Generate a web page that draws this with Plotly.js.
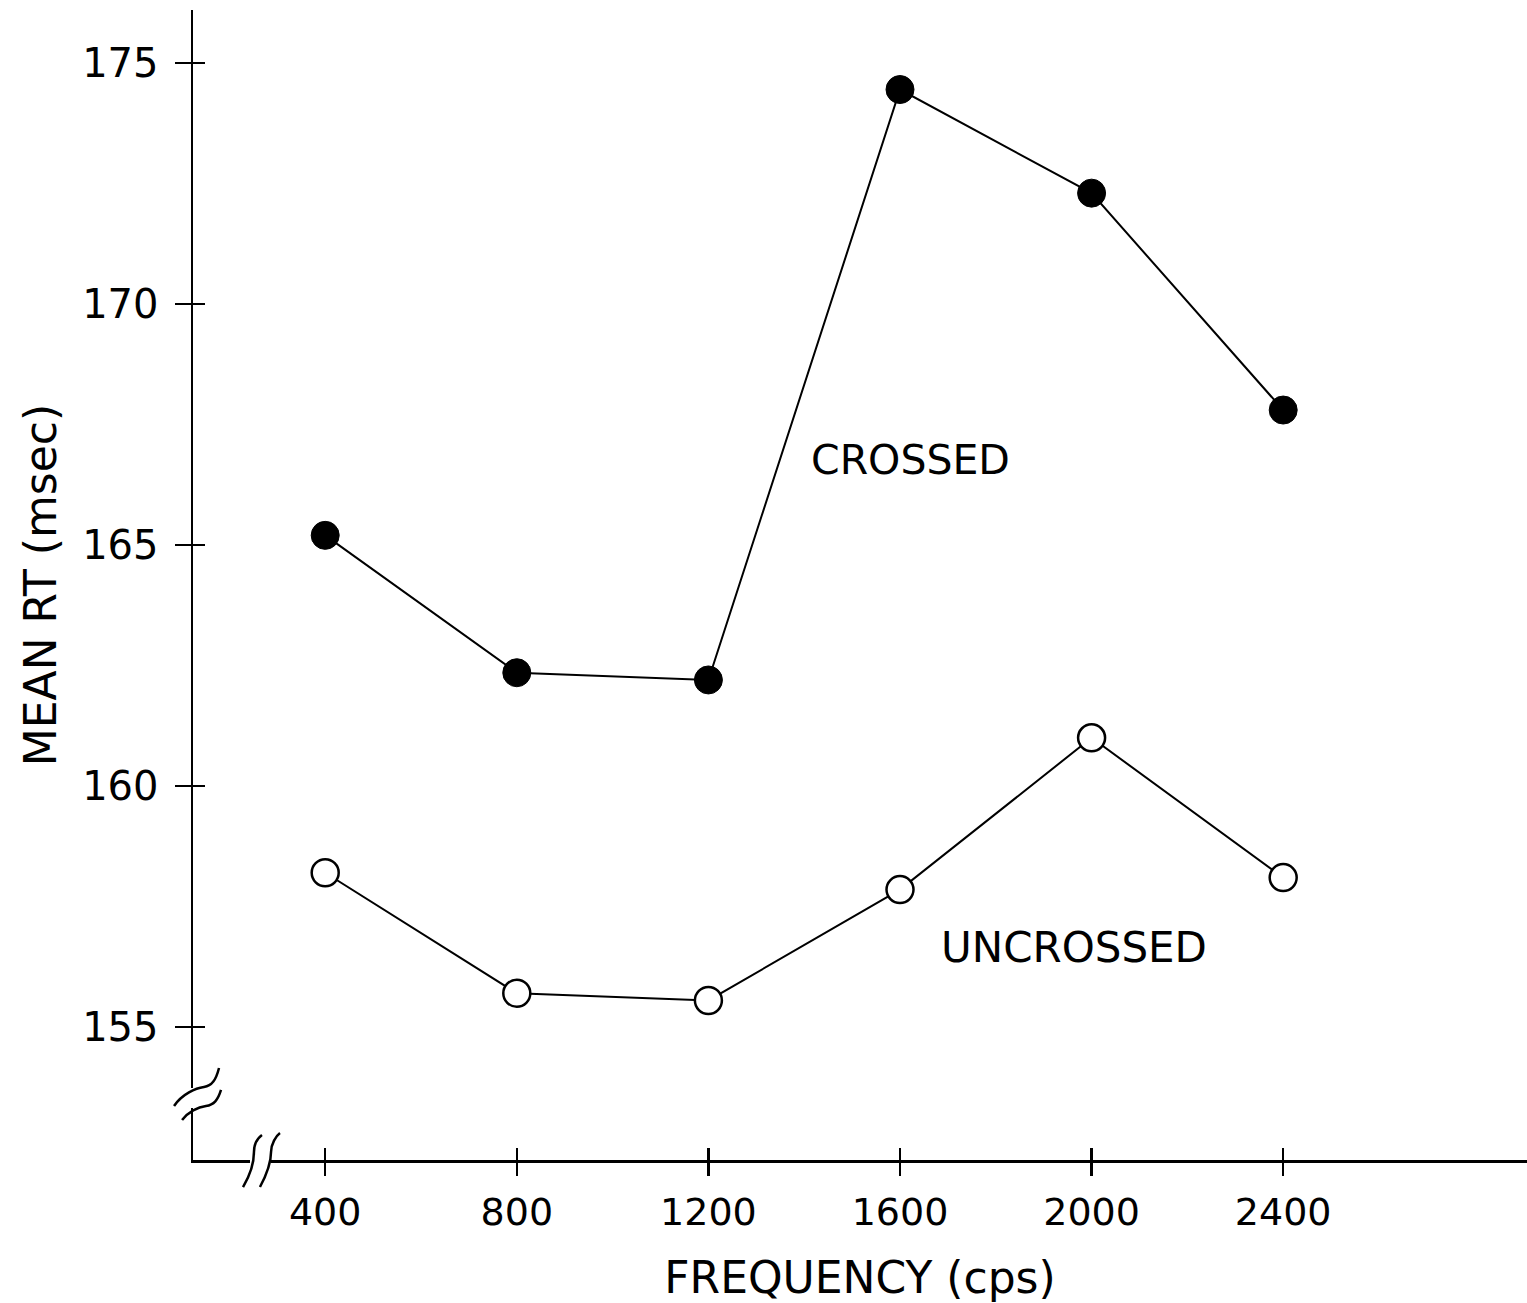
<!DOCTYPE html>
<html>
<head>
<meta charset="utf-8">
<script src="https://cdn.plot.ly/plotly-3.0.1.min.js"></script>
<style>html,body{margin:0;padding:0;background:#fff;}#chart{width:1527px;height:1303px;}</style>
</head>
<body>
<div id="chart"></div>
<script>
// Data
const frequencies = [400, 800, 1200, 1600, 2000, 2400];
const crossedRT = [165.2, 162.35, 162.2, 174.45, 172.3, 167.8];
const uncrossedRT = [158.2, 155.7, 155.55, 157.85, 161.0, 158.1];
const xTickVals = [400, 800, 1200, 1600, 2000, 2400];
const yTickVals = [155, 160, 165, 170, 175];

const W = 1527, H = 1303;
const M = {l: 193, r: 0, t: 10, b: 143};
const xRange = [124, 2909];
const yRange = [152.24, 176.1];

// pixel -> paper helper for decorative axis-break marks only
function P(px, py) {
  const x = (px - M.l) / (W - M.l - M.r);
  const y = (H - M.b - py) / (H - M.t - M.b);
  return x.toFixed(4) + ',' + y.toFixed(4);
}

const font = 'DejaVu Sans, sans-serif';

const traces = [
  {x: frequencies, y: crossedRT, mode: 'lines+markers', name: 'CROSSED',
   line: {color: '#000', width: 2},
   marker: {symbol: 'circle', size: 28, color: '#000', line: {color: '#000', width: 1}}},
  {x: frequencies, y: uncrossedRT, mode: 'lines+markers', name: 'UNCROSSED',
   line: {color: '#000', width: 2},
   marker: {symbol: 'circle', size: 27, color: '#fff', line: {color: '#000', width: 2.5}}},
  {x: [], y: [], xaxis: 'x2', yaxis: 'y2', showlegend: false, hoverinfo: 'skip'}
];

const brk = {type: 'path', xref: 'paper', yref: 'paper', layer: 'above', line: {color: '#000', width: 2.5}};
const gap = {type: 'rect', xref: 'paper', yref: 'paper', layer: 'above', line: {width: 0}, fillcolor: '#fff'};

const layout = {
  width: W, height: H,
  margin: M,
  paper_bgcolor: '#fff', plot_bgcolor: '#fff',
  showlegend: false,
  font: {family: font, color: '#000'},
  xaxis: {
    range: xRange, tickvals: xTickVals, ticktext: xTickVals.map(String),
    showgrid: false, zeroline: false, showline: true, linecolor: '#000', linewidth: 2.5,
    ticks: 'outside', ticklen: 13, tickwidth: 2.5, tickcolor: '#000',
    ticklabelstandoff: 4,
    tickfont: {family: font, size: 38, color: '#000'},
    title: {text: 'FREQUENCY (cps)', font: {family: font, size: 44, color: '#000'}, standoff: 32},
    automargin: false
  },
  yaxis: {
    range: yRange, tickvals: yTickVals, ticktext: yTickVals.map(String),
    showgrid: false, zeroline: false, showline: true, linecolor: '#000', linewidth: 2.5,
    ticks: 'outside', ticklen: 16, tickwidth: 2.5, tickcolor: '#000',
    ticklabelstandoff: 8,
    tickfont: {family: font, size: 40, color: '#000'},
    title: {text: 'MEAN RT (msec)', font: {family: font, size: 44, color: '#000'}, standoff: 12},
    automargin: false
  },
  xaxis2: {
    overlaying: 'x', anchor: 'y2', range: xRange, tickvals: xTickVals,
    showticklabels: false, showgrid: false, zeroline: false, showline: false,
    ticks: 'inside', ticklen: 12, tickwidth: 2.5, tickcolor: '#000'
  },
  yaxis2: {
    overlaying: 'y', anchor: 'x2', range: yRange, tickvals: yTickVals,
    showticklabels: false, showgrid: false, zeroline: false, showline: false,
    ticks: 'inside', ticklen: 12, tickwidth: 2.5, tickcolor: '#000'
  },
  annotations: [
    {x: 1621, y: 166.76, xref: 'x', yref: 'y', text: 'CROSSED', showarrow: false,
     font: {family: font, size: 41, color: '#000'}},
    {x: 1964, y: 156.64, xref: 'x', yref: 'y', text: 'UNCROSSED', showarrow: false,
     font: {family: font, size: 42, color: '#000'}}
  ],
  shapes: [
    // y-axis break
    Object.assign({}, gap, {x0: -0.01, x1: 0.01, y0: (H - M.b - 1108) / (H - M.t - M.b), y1: (H - M.b - 1088) / (H - M.t - M.b)}),
    Object.assign({}, brk, {path: 'M' + P(174, 1106) + ' C' + P(182, 1094) + ' ' + P(196, 1088) + ' ' + P(204, 1087) + ' S' + P(216, 1080) + ' ' + P(219, 1068)}),
    Object.assign({}, brk, {path: 'M' + P(182, 1120) + ' C' + P(188, 1112) + ' ' + P(198, 1107) + ' ' + P(206, 1106) + ' S' + P(218, 1100) + ' ' + P(221, 1090)}),
    // x-axis break
    Object.assign({}, gap, {x0: (250 - M.l) / (W - M.l - M.r), x1: (271 - M.l) / (W - M.l - M.r), y0: -0.01, y1: 0.01}),
    Object.assign({}, brk, {path: 'M' + P(243, 1187) + ' C' + P(252, 1172) + ' ' + P(254, 1160) + ' ' + P(254, 1152) + ' S' + P(258, 1138) + ' ' + P(262, 1135)}),
    Object.assign({}, brk, {path: 'M' + P(260, 1187) + ' C' + P(268, 1172) + ' ' + P(271, 1160) + ' ' + P(271, 1152) + ' S' + P(276, 1136) + ' ' + P(280, 1133)})
  ]
};

Plotly.newPlot('chart', traces, layout, {displayModeBar: false, staticPlot: true});
</script>
</body>
</html>
